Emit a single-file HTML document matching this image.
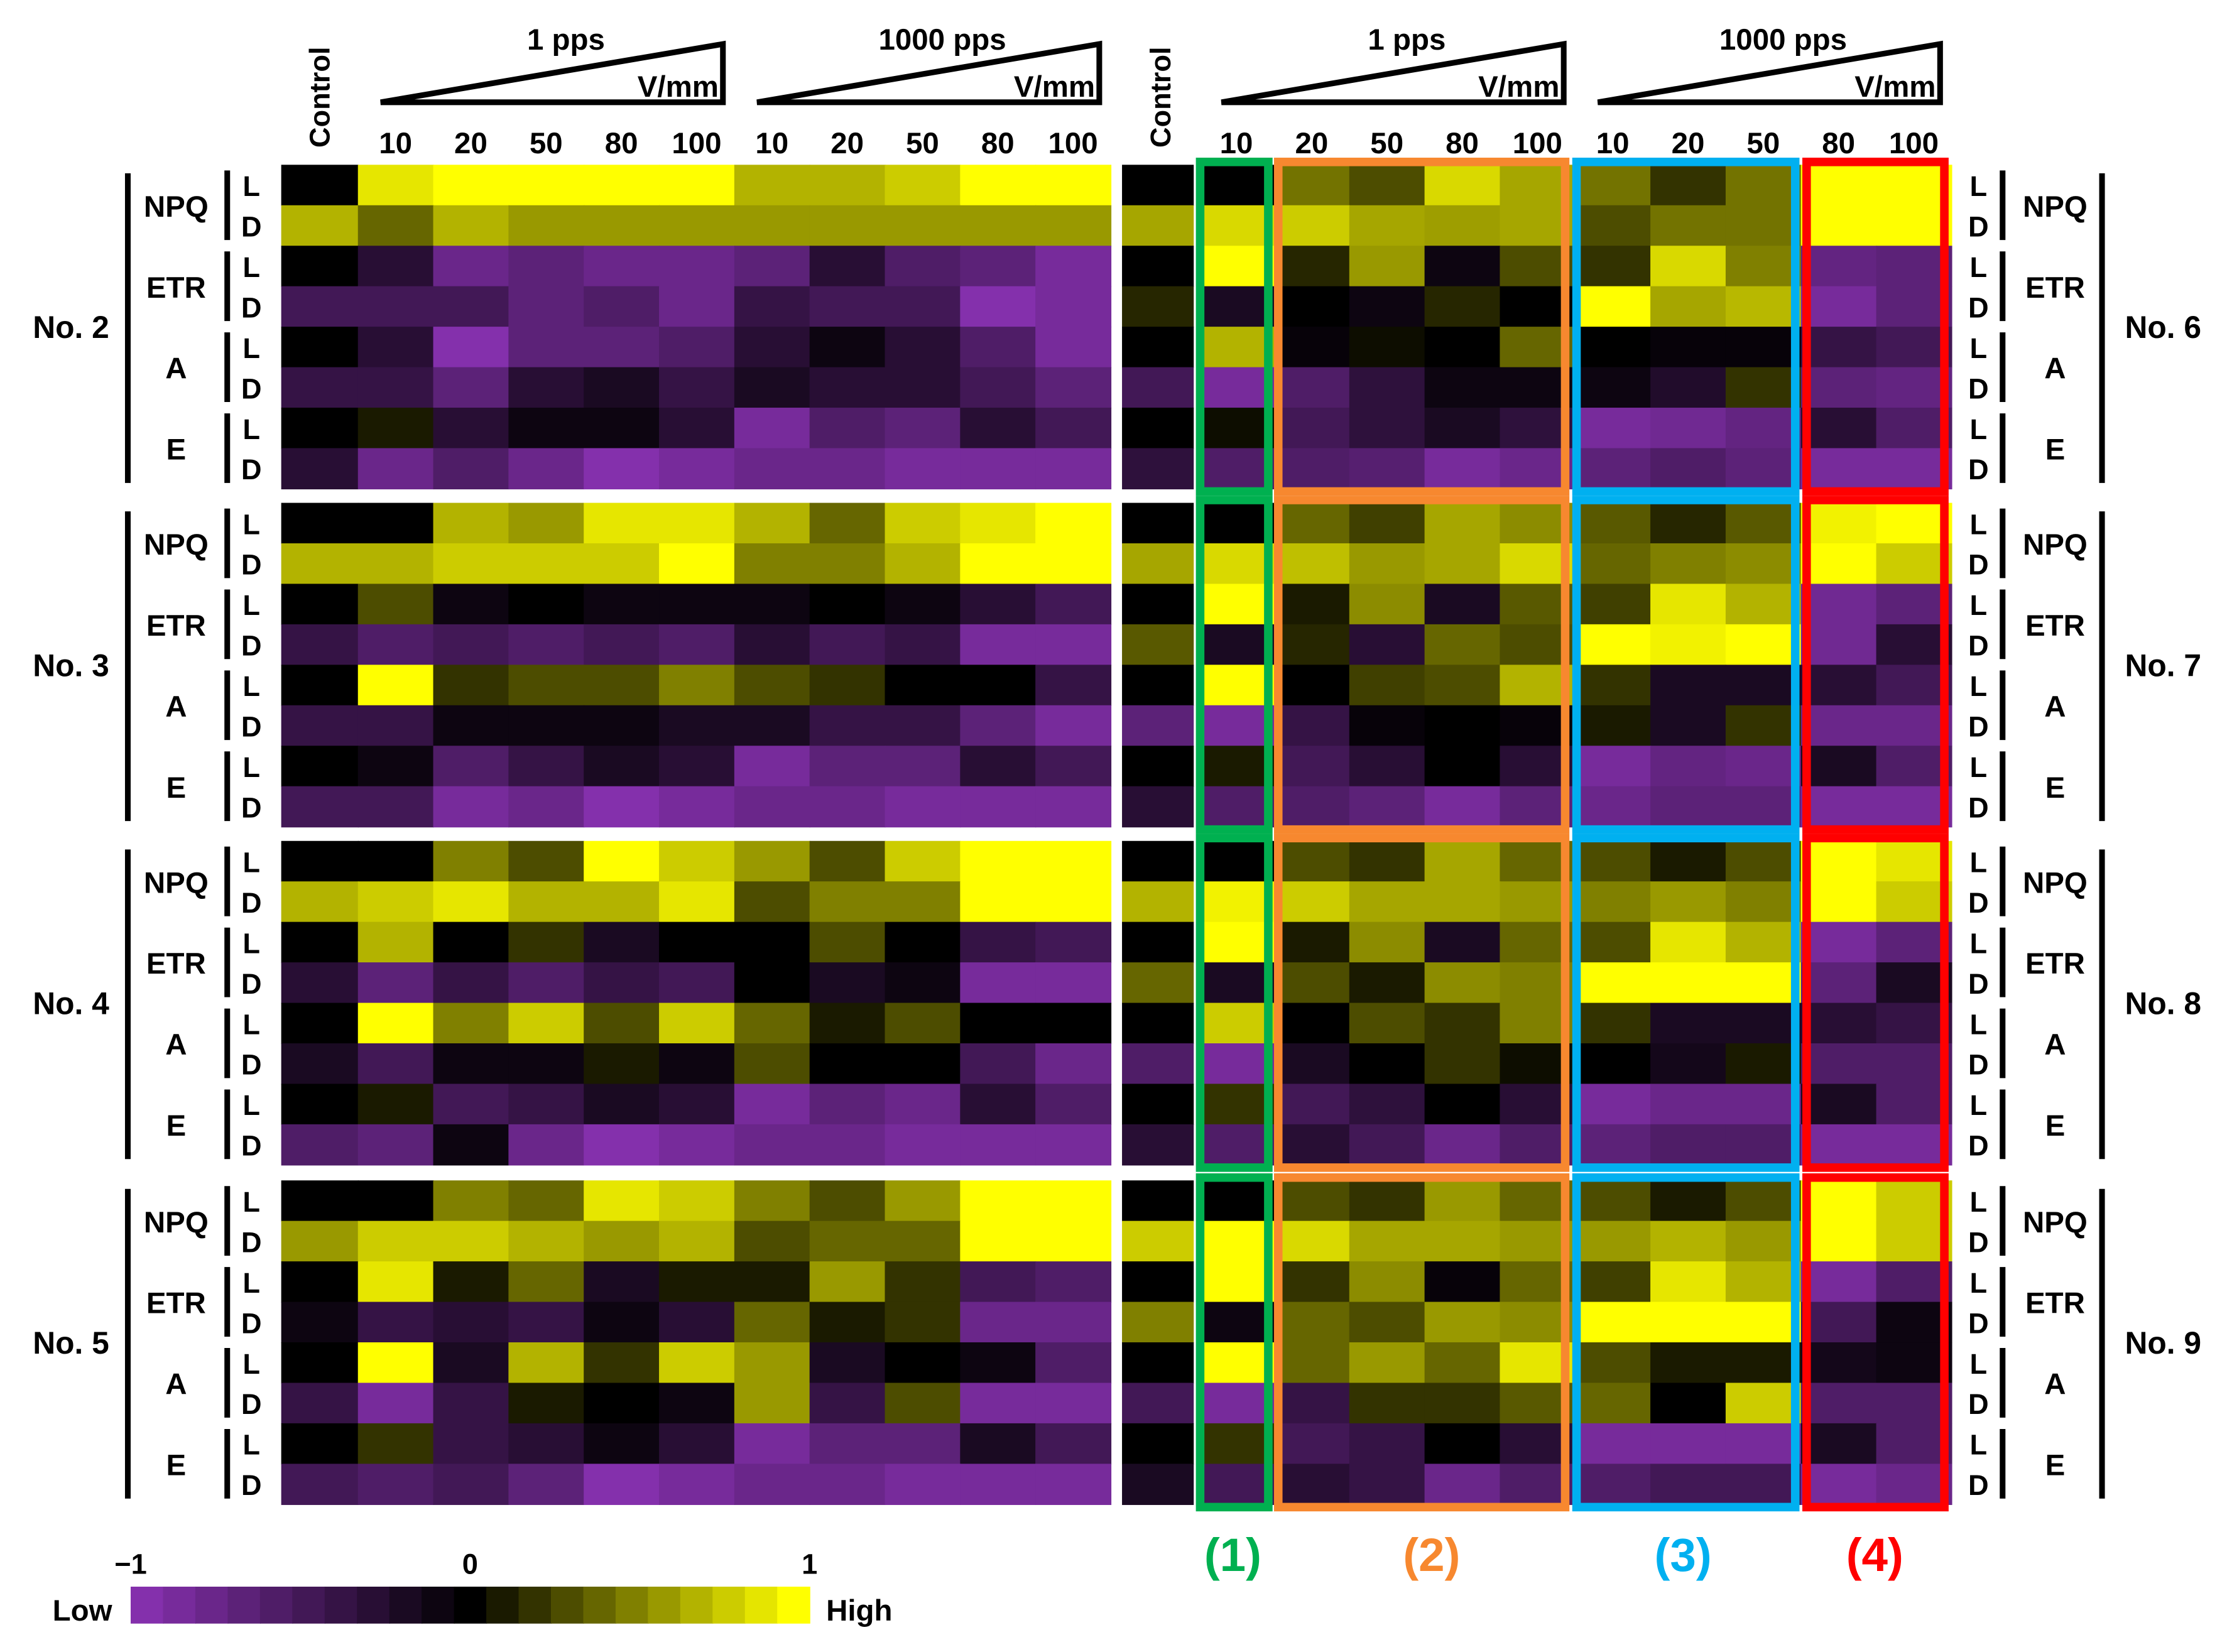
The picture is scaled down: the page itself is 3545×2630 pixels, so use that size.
<!DOCTYPE html>
<html><head><meta charset="utf-8"><style>
html,body{margin:0;padding:0;background:#fff}
svg{display:block}
text{font-family:"Liberation Sans",Arial,sans-serif;font-weight:bold;fill:#000}
</style></head><body>
<svg id="chart" xmlns="http://www.w3.org/2000/svg" width="3545" height="2630" viewBox="0 0 1568 1163" preserveAspectRatio="none">
<g id="cells"></g>
<g id="overlay"></g>
</svg>
<script>
const columnLabels = ["10","20","50","80","100","10","20","50","80","100"];
const rowParams = ["NPQ","ETR","A","E"];
const leftSamples = ["No. 2","No. 3","No. 4","No. 5"];
const rightSamples = ["No. 6","No. 7","No. 8","No. 9"];
// each row: [control, 1pps 10..100, 1000pps 10..100]; rows NPQ L, NPQ D, ETR L, ETR D, A L, A D, E L, E D
const no2 = [[0,.9,1,1,1,1,.7,.7,.8,1,1],[.7,.4,.7,.6,.6,.6,.6,.6,.6,.6,.6],[0,-.3,-.8,-.7,-.8,-.8,-.7,-.3,-.6,-.7,-.9],[-.5,-.5,-.5,-.7,-.6,-.8,-.4,-.5,-.5,-1,-.9],[0,-.3,-1,-.7,-.7,-.6,-.3,-.1,-.3,-.6,-.9],[-.4,-.4,-.7,-.3,-.2,-.4,-.2,-.3,-.3,-.5,-.7],[0,.1,-.3,-.1,-.1,-.3,-.9,-.6,-.7,-.3,-.5],[-.3,-.8,-.6,-.8,-1,-.9,-.8,-.8,-.9,-.9,-.9]];
const no3 = [[0,0,.7,.6,.9,.9,.7,.4,.8,.9,1],[.7,.7,.8,.8,.8,1,.5,.5,.7,1,1],[0,.3,-.1,0,-.1,-.1,-.1,0,-.1,-.3,-.5],[-.4,-.6,-.5,-.6,-.5,-.6,-.3,-.5,-.4,-.9,-.9],[0,1,.2,.3,.3,.5,.3,.2,0,0,-.4],[-.4,-.4,-.1,-.1,-.1,-.2,-.2,-.4,-.4,-.7,-.9],[0,-.1,-.6,-.4,-.2,-.3,-.9,-.7,-.7,-.3,-.5],[-.5,-.5,-.9,-.8,-1,-.9,-.8,-.8,-.9,-.9,-.9]];
const no4 = [[0,0,.5,.3,1,.8,.6,.3,.8,1,1],[.7,.8,.9,.7,.7,.9,.3,.5,.5,1,1],[0,.7,0,.2,-.2,0,0,.3,0,-.4,-.5],[-.3,-.7,-.4,-.6,-.4,-.5,0,-.2,-.1,-.9,-.9],[0,1,.5,.8,.3,.8,.4,.1,.3,0,0],[-.2,-.5,-.1,-.1,.1,-.1,.3,0,0,-.5,-.8],[0,.1,-.5,-.4,-.2,-.3,-.9,-.7,-.8,-.3,-.6],[-.6,-.7,-.1,-.8,-1,-.9,-.8,-.8,-.9,-.9,-.9]];
const no5 = [[0,0,.5,.4,.9,.8,.5,.3,.6,1,1],[.6,.8,.8,.7,.6,.7,.3,.4,.4,1,1],[0,.9,.1,.4,-.2,.1,.1,.6,.2,-.5,-.6],[-.1,-.4,-.3,-.4,-.1,-.3,.4,.1,.2,-.8,-.8],[0,1,-.2,.7,.2,.8,.6,-.2,0,-.1,-.6],[-.4,-.9,-.4,.1,0,-.1,.6,-.4,.3,-.9,-.9],[0,.2,-.4,-.3,-.1,-.3,-.9,-.7,-.7,-.2,-.5],[-.5,-.6,-.5,-.7,-1,-.9,-.8,-.8,-.9,-.9,-.9]];
const no6 = [[0,0,.45,.3,.85,.65,.45,.2,.45,1,1],[.65,.85,.8,.65,.62,.65,.3,.45,.45,1,1],[0,1,.15,.6,-.1,.3,.2,.85,.5,-.75,-.7],[.15,-.2,0,-.1,.15,0,1,.65,.72,-.9,-.7],[0,.7,-.05,.05,0,.4,0,-.05,-.05,-.4,-.5],[-.5,-.9,-.6,-.35,-.1,-.1,-.1,-.25,.2,-.7,-.75],[0,.05,-.5,-.35,-.2,-.35,-.9,-.85,-.75,-.3,-.6],[-.35,-.6,-.6,-.65,-.9,-.8,-.7,-.6,-.7,-.9,-.9]];
const no7 = [[0,0,.4,.25,.65,.55,.35,.15,.35,.95,1],[.65,.85,.75,.6,.65,.85,.4,.5,.55,1,.8],[0,1,.1,.55,-.2,.35,.25,.9,.7,-.85,-.7],[.35,-.2,.15,-.3,.4,.3,1,.95,1,-.85,-.3],[0,1,0,.25,.3,.7,.2,-.2,-.2,-.3,-.5],[-.7,-.9,-.4,-.05,0,-.05,.1,-.2,.2,-.8,-.8],[0,.1,-.5,-.3,0,-.3,-.9,-.75,-.8,-.2,-.6],[-.3,-.6,-.6,-.7,-.9,-.7,-.8,-.7,-.7,-.9,-.9]];
const no8 = [[0,0,.3,.2,.65,.4,.3,.1,.3,1,.9],[.7,.95,.8,.65,.65,.6,.5,.6,.5,1,.8],[0,1,.1,.55,-.2,.4,.3,.9,.7,-.9,-.7],[.4,-.2,.3,.1,.55,.5,1,1,1,-.7,-.2],[0,.8,0,.3,.2,.5,.2,-.2,-.2,-.3,-.4],[-.6,-.9,-.2,0,.2,.05,0,-.15,.1,-.6,-.6],[0,.2,-.5,-.35,0,-.3,-.9,-.8,-.8,-.2,-.6],[-.3,-.6,-.3,-.5,-.8,-.6,-.7,-.6,-.6,-.9,-.9]];
const no9 = [[0,0,.3,.2,.6,.4,.3,.1,.3,1,.8],[.8,1,.85,.65,.65,.6,.6,.7,.6,1,.8],[0,1,.2,.55,-.05,.4,.25,.9,.7,-.9,-.6],[.5,-.1,.4,.3,.6,.55,1,1,1,-.5,-.1],[0,1,.4,.6,.4,.9,.3,.1,.1,-.15,-.1],[-.5,-.9,-.4,.2,.2,.35,.4,0,.8,-.6,-.6],[0,.2,-.5,-.4,0,-.3,-.9,-.9,-.9,-.2,-.6],[-.2,-.5,-.3,-.4,-.8,-.6,-.6,-.5,-.5,-.9,-.8]];
const leftData = [no2,no3,no4,no5];
const rightData = [no6,no7,no8,no9];
const colorbarTicks = ["\u22121","0","1"];

const NS="http://www.w3.org/2000/svg";
const cellsG=document.getElementById('cells'), ov=document.getElementById('overlay');
function mk(tag,attrs,parent){const e=document.createElementNS(NS,tag);for(const k in attrs)e.setAttribute(k,attrs[k]);(parent||ov).appendChild(e);return e;}
function color(v){v=Math.max(-1,Math.min(1,v));
 if(v>=0){const c=Math.round(255*v);return `rgb(${c},${c},0)`;}
 const t=-v;return `rgb(${Math.round(132*t)},${Math.round(48*t)},${Math.round(172*t)})`;}
const blockTop=[116,354,592,831], rowH=28.5, colW=53;
function xScale(side,col){ // col 0=control
 if(side==='L') return col===0?198:252+(col-1)*colW;
 return col===0?790:844+(col-1)*colW;}
function wScale(side,col){return col===0?(side==='L'?54:50):colW;}
function yScale(b,r){return blockTop[b]+r*rowH;}
function drawSide(side,data){
 data.forEach((block,b)=>{block.forEach((row,r)=>{row.forEach((v,c)=>{
  const el=mk('rect',{x:xScale(side,c),y:yScale(b,r),width:wScale(side,c)+0.5,height:rowH+0.5,fill:color(v)},cellsG);
  
  
 });});});}
drawSide('L',leftData);drawSide('R',rightData);

// boxes
const boxes=[[842,896,'#00b050'],[897,1105,'#f7882f'],[1107,1267,'#00b0f0'],[1269,1372,'#ff0000']];
const boxNames=['group-1-box','group-2-box','group-3-box','group-4-box'];
blockTop.forEach((t,b)=>{boxes.forEach((bx,i)=>{
 const el=mk('rect',{x:bx[0]+3,y:t-2,width:bx[1]-bx[0]-6,height:8*rowH+4,fill:'none',stroke:bx[2],'stroke-width':6});
 
 
});});
const gLabels=[['(1)',868,'#00b050'],['(2)',1008,'#f7882f'],['(3)',1185,'#00b0f0'],['(4)',1320,'#ff0000']];
gLabels.forEach((g,i)=>{const e=mk('text',{x:g[1],y:1106,'font-size':33,'text-anchor':'middle',style:'fill:'+g[2]});e.textContent=g[0];
 });

// header
function header(side){
 const x0=side==='L'?198:790;
 const c=mk('text',{x:0,y:0,'font-size':20,transform:`translate(${x0+34},104) rotate(-90)`});c.textContent='Control';
 
 columnLabels.forEach((l,i)=>{const e=mk('text',{x:xScale(side,i+1)+colW/2,y:108,'font-size':21,'text-anchor':'middle'});e.textContent=l;
  });
 [[0,'1 pps'],[5,'1000 pps']].forEach(([s,txt])=>{
  const xa=xScale(side,s+1)+16, xb=xScale(side,s+5)+colW-8;
  const p=mk('polygon',{points:`${xa},72 ${xb},31 ${xb},72`,fill:'none',stroke:'#000','stroke-width':4,'stroke-linejoin':'miter'});
  
  const t=mk('text',{x:(xa+xb)/2+10,y:35,'font-size':21,'text-anchor':'middle'});t.textContent=txt;
  
  const v=mk('text',{x:xb-3,y:68,'font-size':21,'text-anchor':'end'});v.textContent='V/mm';
  
 });}
header('L');header('R');

// row labels
function rowLabels(side,names){
 blockTop.forEach((t,b)=>{
  const L=side==='L';
  const bigX=L?90:1480, paramX=L?124:1447, subX=L?160:1410, ldX=L?177:1393, noX=L?50:1523;
  const bl=mk('line',{x1:bigX,y1:t+6,x2:bigX,y2:t+8*rowH-4,stroke:'#000','stroke-width':4});
  
  const n=mk('text',{x:noX,y:t+4*rowH+8,'font-size':22,'text-anchor':'middle'});n.textContent=names[b];
  
  rowParams.forEach((p,i)=>{
   const y0=t+i*2*rowH;
   const sl=mk('line',{x1:subX,y1:y0+4,x2:subX,y2:y0+2*rowH-4,stroke:'#000','stroke-width':4});
   
   const pt=mk('text',{x:paramX,y:y0+rowH+8,'font-size':21,'text-anchor':'middle'});pt.textContent=p;
   
   ['L','D'].forEach((ld,k)=>{const e=mk('text',{x:ldX,y:y0+k*rowH+22,'font-size':20,'text-anchor':'middle'});e.textContent=ld;
    });
  });
 });}
rowLabels('L',leftSamples);rowLabels('R',rightSamples);

// colorbar
const nSteps=21, cbX=92, cbW=478;
for(let i=0;i<nSteps;i++){const v=-1+2*i/(nSteps-1);
 const e=mk('rect',{x:cbX+i*cbW/nSteps,y:1117,width:cbW/nSteps+0.5,height:26,fill:color(v)});
 }
colorbarTicks.forEach((l,i)=>{const e=mk('text',{x:cbX+i*cbW/2,y:1108,'font-size':20,'text-anchor':'middle'});e.textContent=l;
 });
const lo=mk('text',{x:58,y:1141,'font-size':21,'text-anchor':'middle'});lo.textContent='Low';

const hi=mk('text',{x:605,y:1141,'font-size':21,'text-anchor':'middle'});hi.textContent='High';

</script>
</body></html>
